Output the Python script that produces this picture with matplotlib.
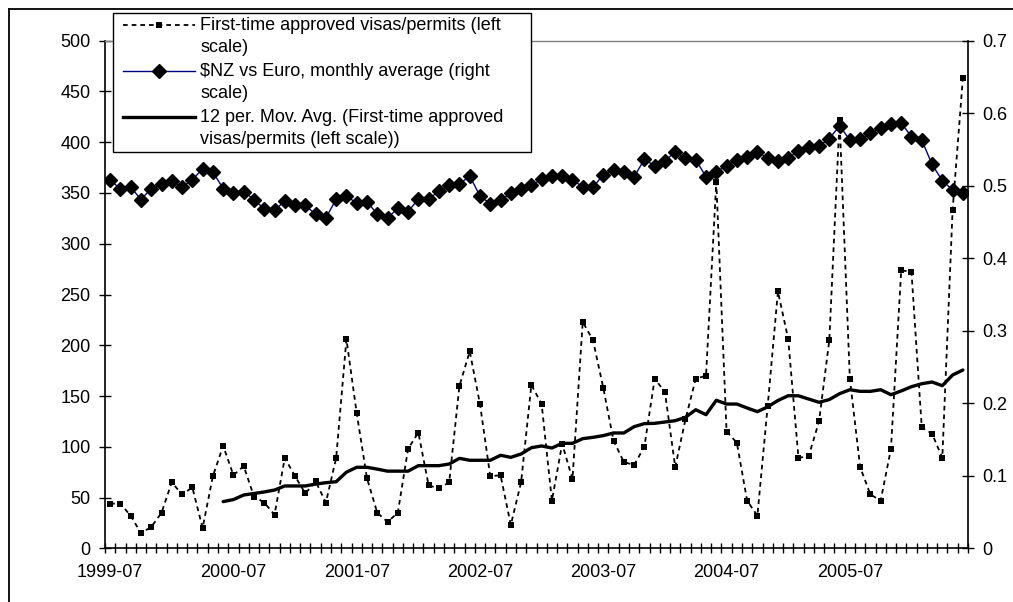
import numpy as np
import matplotlib
matplotlib.use("Agg")
import matplotlib.pyplot as plt
from matplotlib.lines import Line2D
from matplotlib.patches import Rectangle

plt.rcParams['font.family'] = ['Liberation Sans', 'DejaVu Sans']

# ---------------- data ----------------
tick_labels = ['1999-07', '2000-07', '2001-07', '2002-07', '2003-07', '2004-07', '2005-07']

visas = [44, 44, 32, 15, 21, 35, 65, 53, 60, 20, 71, 101,
         72, 81, 51, 45, 33, 89, 71, 54, 66, 45, 89, 206,
         133, 69, 35, 26, 35, 98, 114, 62, 59, 65, 160, 194,
         142, 71, 72, 23, 65, 161, 142, 47, 103, 68, 223, 205,
         158, 106, 85, 82, 100, 167, 154, 80, 127, 167, 170, 361,
         115, 104, 47, 32, 140, 253, 206, 89, 91, 125, 205, 422,
         167, 80, 53, 47, 98, 274, 272, 119, 113, 89, 333, 463]

nz_euro = [0.508, 0.4955, 0.498, 0.481, 0.496, 0.503, 0.5065, 0.498, 0.508, 0.5235, 0.519, 0.496,
           0.4895, 0.492, 0.481, 0.468, 0.466, 0.479, 0.473, 0.473, 0.4605, 0.4555, 0.4814, 0.486,
           0.4757, 0.478, 0.461, 0.4555, 0.4688, 0.4642, 0.4817, 0.4817, 0.4923, 0.5005, 0.5023, 0.5134,
           0.4858, 0.4752, 0.4798, 0.4899, 0.4959, 0.5005, 0.5088, 0.5138, 0.5129, 0.5083, 0.4982, 0.4978,
           0.5152, 0.5216, 0.5193, 0.5124, 0.5364, 0.5276, 0.5341, 0.5469, 0.5382, 0.5359, 0.5124, 0.5193,
           0.5276, 0.535, 0.54, 0.5469, 0.5378, 0.534, 0.538, 0.5483, 0.5529, 0.555, 0.565, 0.5827,
           0.563, 0.5644, 0.5722, 0.58, 0.5847, 0.5865, 0.5676, 0.563, 0.5295, 0.5069, 0.4941, 0.4895]

# 12-period moving average, starting at the 12th month
mov_avg = [46, 48, 52.5, 54, 55.5, 57.4, 61.4, 61.4, 61.4, 63.3, 64.6, 65.6,
           75, 79.8, 79.8, 78, 76, 76, 76, 81.4, 81.4, 81.4, 83, 88.6,
           86.7, 86.7, 86.7, 91.6, 89.6, 92.9, 99.1, 100.8, 98.8, 103.4, 103.4, 108,
           109.3, 111, 113.6, 113.6, 119.8, 122.8, 123.1, 124.4, 125.7, 129, 136.5, 131.6,
           145.8, 142.1, 142.1, 138.2, 134.6, 139.3, 145.6, 150.3, 150.2, 147, 143.8, 146.5,
           152.3, 156.2, 154.6, 154.6, 156.2, 151.3, 155, 159.2, 162.1, 163.8, 160.2, 170.7,
           175.6]

legend_labels = ['First-time approved visas/permits (left\nscale)',
                 '$NZ vs Euro, monthly average (right\nscale)',
                 '12 per. Mov. Avg. (First-time approved\nvisas/permits (left scale))']

# ---------------- figure ----------------
W, H = 1013, 602
fig = plt.figure(figsize=(W / 100, H / 100), dpi=100)

def fx(px):
    return px / W

def fy(py):
    return 1 - py / H

left_px, right_px, top_px, bottom_px = 105, 968, 40.7, 548.3
ax = fig.add_axes([fx(left_px), fy(bottom_px), fx(right_px) - fx(left_px), fy(top_px) - fy(bottom_px)])
ax2 = ax.twinx()

n = len(visas)
x = np.arange(n)
x_ma = np.arange(n - len(mov_avg), n)

dot_style = (0, (2.6, 2.2))
ax.plot(x, visas, color='black', lw=1.3, linestyle=dot_style, marker='s',
        markersize=4.6, markeredgewidth=0, zorder=3)
ax.plot(x_ma, mov_avg, color='black', lw=2.4, solid_capstyle='round', zorder=4)
ax2.plot(x, nz_euro, color='#000080', lw=1.0, marker='D', markersize=7,
         markerfacecolor='black', markeredgecolor='black', zorder=3)

ax.set_xlim(-0.5, n - 0.5)
ax.set_ylim(0, 500)
ax2.set_ylim(0, 0.7)

ax.set_yticks(np.arange(0, 501, 50))
right_ticks = np.round(np.arange(0, 0.71, 0.1), 1)
ax2.set_yticks(right_ticks)
ax2.set_yticklabels(['0' if v == 0 else f'{v:.1f}' for v in right_ticks])

ax.set_xticks(np.arange(-0.5, n, 1))
ax.set_xticklabels([])
ax.set_xticks(np.arange(0, n, 12), minor=True)
ax.set_xticklabels(tick_labels, minor=True)

fs = 13
ax.tick_params(axis='x', which='major', direction='inout', length=7, width=1, color='black')
ax.tick_params(axis='x', which='minor', length=0, pad=11, labelsize=fs)
ax.tick_params(axis='y', direction='inout', length=9, width=1, pad=6, labelsize=fs)
ax2.tick_params(axis='y', direction='inout', length=9, width=1, pad=6, labelsize=fs)

for s in ['left', 'bottom']:
    ax.spines[s].set_color('black')
    ax.spines[s].set_linewidth(1.2)
ax.spines['right'].set_visible(False)
ax.spines['top'].set_color('#808080')
ax.spines['top'].set_linewidth(1.0)
for s in ['left', 'bottom', 'top']:
    ax2.spines[s].set_visible(False)
ax2.spines['right'].set_color('black')
ax2.spines['right'].set_linewidth(1.2)

# outer chart-area frame (only top and left edges visible)
fig.add_artist(Line2D([fx(8.5), fx(8.5)], [fy(8.5), fy(H + 5)], color='black', lw=1.3,
                      transform=fig.transFigure))
fig.add_artist(Line2D([fx(8.5), fx(W + 5)], [fy(8.5), fy(8.5)], color='black', lw=1.3,
                      transform=fig.transFigure))

# ---------------- legend ----------------
fig.add_artist(Rectangle((fx(113), fy(152)), fx(531) - fx(113), fy(13) - fy(152),
                         facecolor='white', edgecolor='black', lw=1.0,
                         transform=fig.transFigure, zorder=10))
line_y = [25, 48, 71, 94, 117, 140]
lines = []
for lab in legend_labels:
    lines.extend(lab.split('\n'))
for yy, t in zip(line_y, lines):
    fig.text(fx(200), fy(yy), t, fontsize=fs, ha='left', va='center', zorder=11)

hx0, hx1, hmid = 123, 195, 159
fig.add_artist(Line2D([fx(hx0), fx(hx1)], [fy(25), fy(25)], color='black', lw=1.3,
                      linestyle=dot_style, transform=fig.transFigure, zorder=11))
fig.add_artist(Line2D([fx(hmid)], [fy(25)], color='black', marker='s', markersize=4.6,
                      markeredgewidth=0, linestyle='none', transform=fig.transFigure, zorder=12))
fig.add_artist(Line2D([fx(hx0), fx(hx1)], [fy(71), fy(71)], color='#000080', lw=1.0,
                      transform=fig.transFigure, zorder=11))
fig.add_artist(Line2D([fx(hmid)], [fy(71)], color='black', marker='D', markersize=7,
                      linestyle='none', transform=fig.transFigure, zorder=12))
fig.add_artist(Line2D([fx(hx0), fx(hx1)], [fy(117), fy(117)], color='black', lw=2.4,
                      transform=fig.transFigure, zorder=11))

fig.savefig('out.png', dpi=100)
